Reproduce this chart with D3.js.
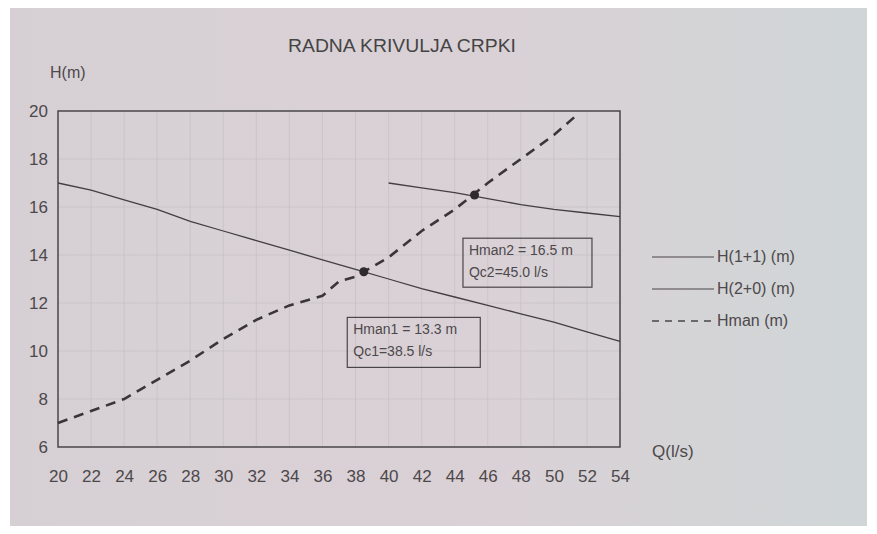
<!DOCTYPE html>
<html>
<head>
<meta charset="utf-8">
<script src="https://d3js.org/d3.v7.min.js"></script>
<style>
  body { margin: 0; background: #ffffff; }
  svg { display: block; font-family: "Liberation Sans Narrow", "Liberation Sans", Arial, sans-serif; }
</style>
</head>
<body>
<div id="chart"></div>
<script>
// data
var qTicks = [20, 22, 24, 26, 28, 30, 32, 34, 36, 38, 40, 42, 44, 46, 48, 50, 52, 54]
var hTicks = [6, 8, 10, 12, 14, 16, 18, 20]

// H(2+0) curve
var h20_q = [20, 22, 24, 26, 28, 30, 32, 34, 36, 38, 40, 42, 44, 46, 48, 50, 52, 54]
var h20_h = [17.0, 16.7, 16.3, 15.9, 15.4, 15.0, 14.6, 14.2, 13.8, 13.4, 13.0, 12.6, 12.25, 11.9, 11.55, 11.2, 10.8, 10.4]

// H(1+1) curve
var h11_q = [40, 42, 44, 46, 48, 50, 52, 54]
var h11_h = [17.0, 16.8, 16.6, 16.35, 16.1, 15.9, 15.75, 15.6]

// Hman curve (dashed)
var hman_q = [20, 22, 24, 26, 28, 30, 32, 34, 36, 37, 38, 40, 42, 44, 46, 48, 50, 51.5]
var hman_h = [7.0, 7.5, 8.0, 8.8, 9.6, 10.5, 11.3, 11.9, 12.3, 12.9, 13.1, 13.9, 15.0, 15.9, 17.0, 18.0, 19.0, 19.9]

// operating points
var op_q = [38.5, 45.2]
var op_h = [13.3, 16.5]
var op_label1 = ["Hman1 = 13.3 m", "Hman2 = 16.5 m"]
var op_label2 = ["Qc1=38.5 l/s", "Qc2=45.0 l/s"]

var legendNames = ["H(1+1) (m)", "H(2+0) (m)", "Hman (m)"]

var W = 877, H = 534
var margin = {top: 111, right: 257, bottom: 87, left: 58}
var width = W - margin.left - margin.right,
    height = H - margin.top - margin.bottom

var svg = d3.select("#chart")
  .append("svg")
    .attr("width", W)
    .attr("height", H)

// photo-ish paper background
var grad = svg.append("defs").append("linearGradient")
    .attr("id", "paper")
    .attr("x1", "0%").attr("x2", "100%").attr("y1", "0%").attr("y2", "0%")
grad.append("stop").attr("offset", "0%").attr("stop-color", "#d6d0d4")
grad.append("stop").attr("offset", "55%").attr("stop-color", "#dad1d6")
grad.append("stop").attr("offset", "100%").attr("stop-color", "#d0d6d7")

svg.append("rect")
  .attr("x", 10).attr("y", 8)
  .attr("width", 857).attr("height", 518)
  .attr("fill", "url(#paper)")

var g = svg.append("g")
  .attr("transform", "translate(" + margin.left + "," + margin.top + ")")

var x = d3.scaleLinear()
  .domain([20, 54])
  .range([0, width])

var y = d3.scaleLinear()
  .domain([6, 20])
  .range([height, 0])

// grid
g.append("g")
  .selectAll("line")
  .data(qTicks.slice(1, -1))
  .enter()
  .append("line")
    .attr("x1", function (d) { return x(d) })
    .attr("x2", function (d) { return x(d) })
    .attr("y1", 0)
    .attr("y2", height)
    .attr("stroke", "#c6c0c4")
    .attr("stroke-width", 0.7)

g.append("g")
  .selectAll("line")
  .data(hTicks.slice(1, -1))
  .enter()
  .append("line")
    .attr("x1", 0)
    .attr("x2", width)
    .attr("y1", function (d) { return y(d) })
    .attr("y2", function (d) { return y(d) })
    .attr("stroke", "#c6c0c4")
    .attr("stroke-width", 0.7)

// frame
g.append("rect")
  .attr("width", width)
  .attr("height", height)
  .attr("fill", "none")
  .attr("stroke", "#4a4548")
  .attr("stroke-width", 1.5)

// axes (labels only)
var xAxis = g.append("g")
  .attr("transform", "translate(0," + height + ")")
  .call(d3.axisBottom(x).tickValues(qTicks).tickSize(0).tickPadding(23))
xAxis.select(".domain").remove()
xAxis.selectAll("text")
  .attr("font-size", 17)
  .attr("fill", "#4d484b")
  .attr("font-family", "Liberation Sans Narrow, Liberation Sans, Arial, sans-serif")

var yAxis = g.append("g")
  .call(d3.axisLeft(y).tickValues(hTicks).tickSize(0).tickPadding(10))
yAxis.select(".domain").remove()
yAxis.selectAll("text")
  .attr("font-size", 17)
  .attr("fill", "#4d484b")
  .attr("font-family", "Liberation Sans Narrow, Liberation Sans, Arial, sans-serif")

var line = d3.line()
  .x(function (d) { return x(d[0]) })
  .y(function (d) { return y(d[1]) })

g.append("path")
  .datum(d3.zip(h20_q, h20_h))
  .attr("d", line)
  .attr("fill", "none")
  .attr("stroke", "#433e41")
  .attr("stroke-width", 1.3)

g.append("path")
  .datum(d3.zip(h11_q, h11_h))
  .attr("d", line)
  .attr("fill", "none")
  .attr("stroke", "#433e41")
  .attr("stroke-width", 1.3)

g.append("path")
  .datum(d3.zip(hman_q, hman_h))
  .attr("d", line)
  .attr("fill", "none")
  .attr("stroke", "#3a3538")
  .attr("stroke-width", 2.6)
  .attr("stroke-dasharray", "10,7")

// operating points
g.append("g")
  .selectAll("circle")
  .data(d3.zip(op_q, op_h))
  .enter()
  .append("circle")
    .attr("cx", function (d) { return x(d[0]) })
    .attr("cy", function (d) { return y(d[1]) })
    .attr("r", 4.5)
    .attr("fill", "#2f2a2d")

// annotation boxes
var boxes = [{q: 37.5, h: 11.4, w: 133, hh: 50}, {q: 44.5, h: 14.7, w: 129, hh: 49}]
boxes.forEach(function (b, i) {
  var bx = x(b.q), by = y(b.h)
  g.append("rect")
    .attr("x", bx).attr("y", by)
    .attr("width", b.w).attr("height", b.hh)
    .attr("fill", "none")
    .attr("stroke", "#4a4548")
    .attr("stroke-width", 1.2)
  g.append("text")
    .attr("x", bx + 6).attr("y", by + 17)
    .attr("font-size", 14)
    .attr("font-family", "Liberation Sans, Arial, sans-serif")
    .attr("fill", "#4d484b")
    .text(op_label1[i])
  g.append("text")
    .attr("x", bx + 6).attr("y", by + 39)
    .attr("font-size", 14)
    .attr("font-family", "Liberation Sans, Arial, sans-serif")
    .attr("fill", "#4d484b")
    .text(op_label2[i])
})

// title + axis titles
svg.append("text")
  .attr("x", 402).attr("y", 52)
  .attr("text-anchor", "middle")
  .attr("font-size", 18)
  .attr("fill", "#444")
  .attr("textLength", 228)
  .attr("lengthAdjust", "spacingAndGlyphs")
  .text("RADNA KRIVULJA CRPKI")

svg.append("text")
  .attr("x", 50).attr("y", 78)
  .attr("font-size", 16)
  .attr("fill", "#4d484b")
  .text("H(m)")

svg.append("text")
  .attr("x", 652).attr("y", 457)
  .attr("font-size", 17)
  .attr("fill", "#4d484b")
  .text("Q(l/s)")

// legend
var legend = svg.append("g")
  .selectAll("g")
  .data(legendNames)
  .enter()
  .append("g")
    .attr("transform", function (d, i) { return "translate(652," + (257 + i * 32) + ")" })

legend.append("line")
  .attr("x1", 0).attr("x2", 62)
  .attr("stroke", "#4a4548")
  .attr("stroke-width", function (d, i) { return i == 2 ? 1.6 : 1.1 })
  .attr("stroke-dasharray", function (d, i) { return i == 2 ? "7,6" : null })

legend.append("text")
  .attr("x", 65).attr("y", 5)
  .attr("font-size", 16)
  .attr("fill", "#4d484b")
  .text(function (d) { return d })
</script>
</body>
</html>
